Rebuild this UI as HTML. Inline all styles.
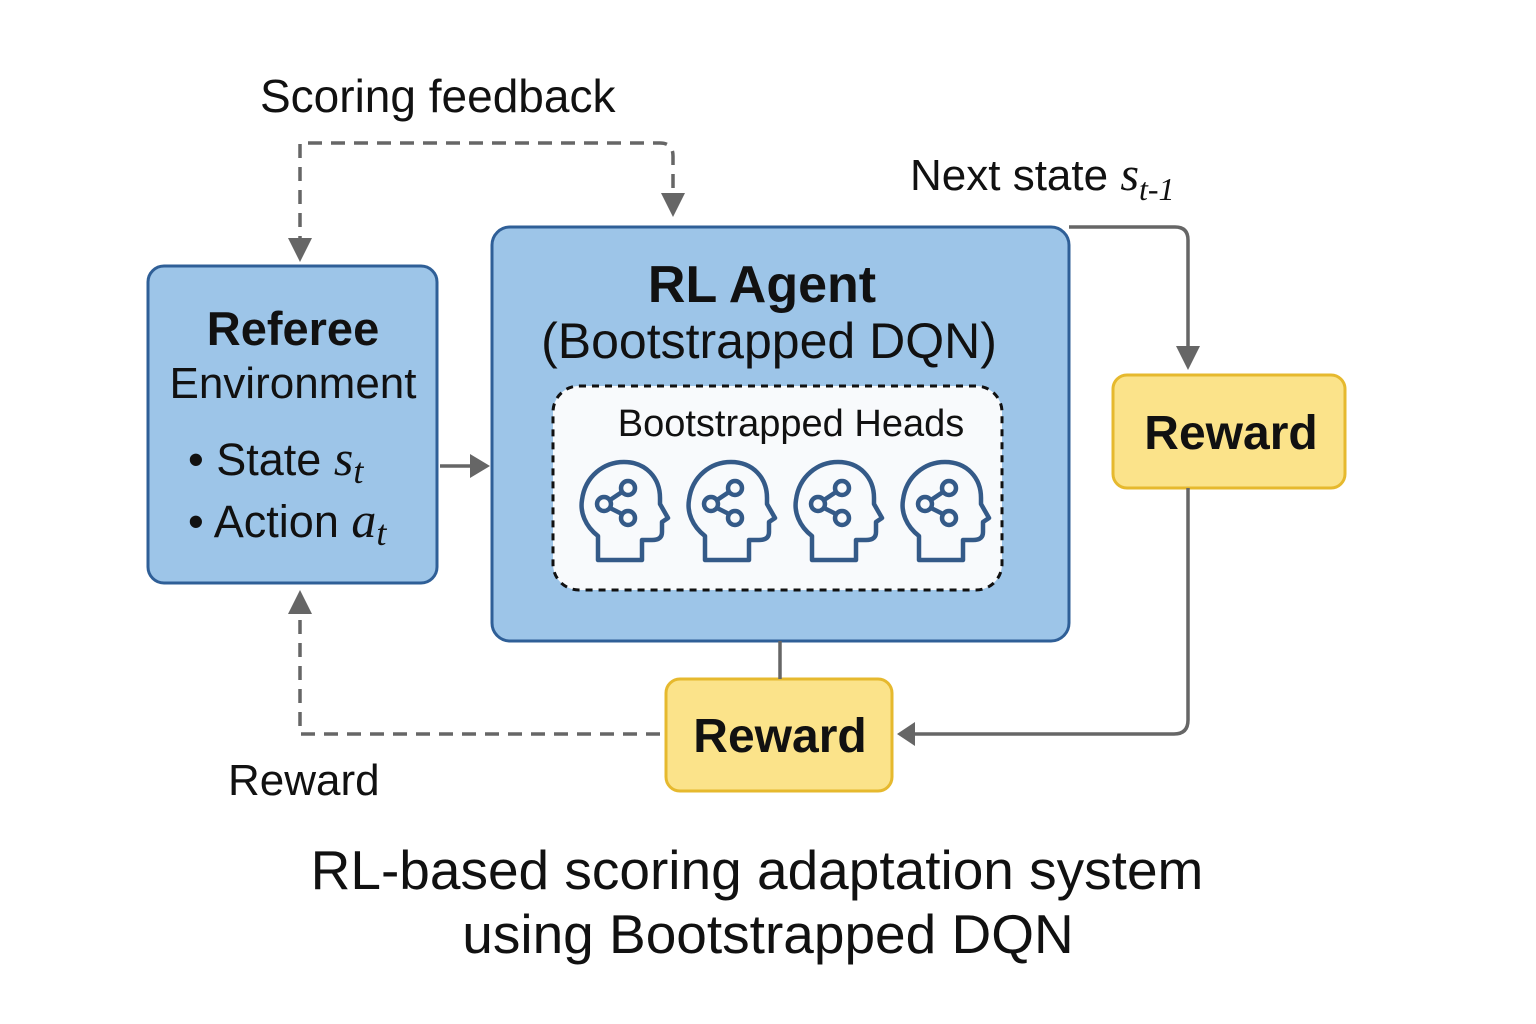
<!DOCTYPE html>
<html><head><meta charset="utf-8"><style>html,body{margin:0;padding:0;background:#fff}svg{display:block}</style></head>
<body>
<svg width="1536" height="1024" viewBox="0 0 1536 1024" xmlns="http://www.w3.org/2000/svg" font-family="Liberation Sans, sans-serif">
<defs>
<g id="head" fill="none" stroke="#345a88" stroke-width="4.5" stroke-linejoin="round">
<path d="M18,98 L18,74 C5,64 0,50 2,38 C5,14 24,0 44,0 C66,0 80,16 80,36 L80,42 L88,56 L82,60 L82,70 C82,76 78,78 72,78 L62,78 L62,98 Z"/>
<circle cx="24" cy="42" r="7"/><circle cx="48" cy="26" r="7"/><circle cx="48" cy="56" r="7"/>
<path d="M30,38 L42,30 M30,46 L42,52"/>
</g>
</defs>
<rect x="148" y="266" width="289" height="317" rx="16" fill="#9dc5e8" stroke="#2f5f97" stroke-width="3"/>
<rect x="492" y="227" width="577" height="414" rx="18" fill="#9dc5e8" stroke="#2f5f97" stroke-width="3"/>
<rect x="553" y="386" width="449" height="204" rx="26" fill="#f8fafc" stroke="#111" stroke-width="3" stroke-dasharray="7,6"/>
<rect x="1113" y="375" width="232" height="113" rx="14" fill="#fbe38a" stroke="#e6b92e" stroke-width="3"/>
<rect x="666" y="679" width="226" height="112" rx="14" fill="#fbe38a" stroke="#e6b92e" stroke-width="3"/>
<use href="#head" x="580" y="462"/>
<use href="#head" x="687" y="462"/>
<use href="#head" x="794" y="462"/>
<use href="#head" x="901" y="462"/>
<g fill="none" stroke="#666" stroke-width="3.5">
<path d="M300,250 L300,143 L660,143 Q673,143 673,156 L673,205" stroke-dasharray="14,9"/>
<path d="M660,734 L300,734 L300,602" stroke-dasharray="14,9"/>
<path d="M1069,227 L1175,227 Q1188,227 1188,240 L1188,360"/>
<path d="M1188,488 L1188,720 Q1188,734 1174,734 L905,734"/>
<path d="M780,641 L780,679"/>
<path d="M440,466 L480,466"/>
</g>
<g fill="#666">
<path d="M288,238 L312,238 L300,262 Z"/>
<path d="M661,193 L685,193 L673,217 Z"/>
<path d="M1176,346 L1200,346 L1188,370 Z"/>
<path d="M288,614 L312,614 L300,590 Z"/>
<path d="M915,722 L915,746 L897,734 Z"/>
<path d="M470,454 L470,478 L490,466 Z"/>
</g>
<g fill="#111">
<text x="260" y="112" font-size="46">Scoring feedback</text>
<text x="910" y="190" font-size="44">Next state <tspan font-family="Liberation Serif, serif" font-style="italic" font-size="48">s</tspan><tspan font-family="Liberation Serif, serif" font-style="italic" font-size="32" dy="10">t-1</tspan></text>
<text x="293" y="345" font-size="47" font-weight="bold" text-anchor="middle">Referee</text>
<text x="293" y="398" font-size="44" text-anchor="middle">Environment</text>
<text x="188" y="475" font-size="45">• State <tspan font-family="Liberation Serif, serif" font-style="italic" font-size="50">s</tspan><tspan font-family="Liberation Serif, serif" font-style="italic" font-size="36" dy="8">t</tspan></text>
<text x="188" y="537" font-size="45">• Action <tspan font-family="Liberation Serif, serif" font-style="italic" font-size="50">a</tspan><tspan font-family="Liberation Serif, serif" font-style="italic" font-size="36" dy="8">t</tspan></text>
<text x="762" y="302" font-size="52" font-weight="bold" text-anchor="middle">RL Agent</text>
<text x="769" y="358" font-size="50" text-anchor="middle">(Bootstrapped DQN)</text>
<text x="791" y="436" font-size="38" text-anchor="middle">Bootstrapped Heads</text>
<text x="1231" y="449" font-size="48" font-weight="bold" text-anchor="middle">Reward</text>
<text x="780" y="752" font-size="48" font-weight="bold" text-anchor="middle">Reward</text>
<text x="228" y="795" font-size="44">Reward</text>
<text x="757" y="889" font-size="55" text-anchor="middle">RL-based scoring adaptation system</text>
<text x="768" y="953" font-size="55" text-anchor="middle">using Bootstrapped DQN</text>
</g>
</svg>
</body></html>
